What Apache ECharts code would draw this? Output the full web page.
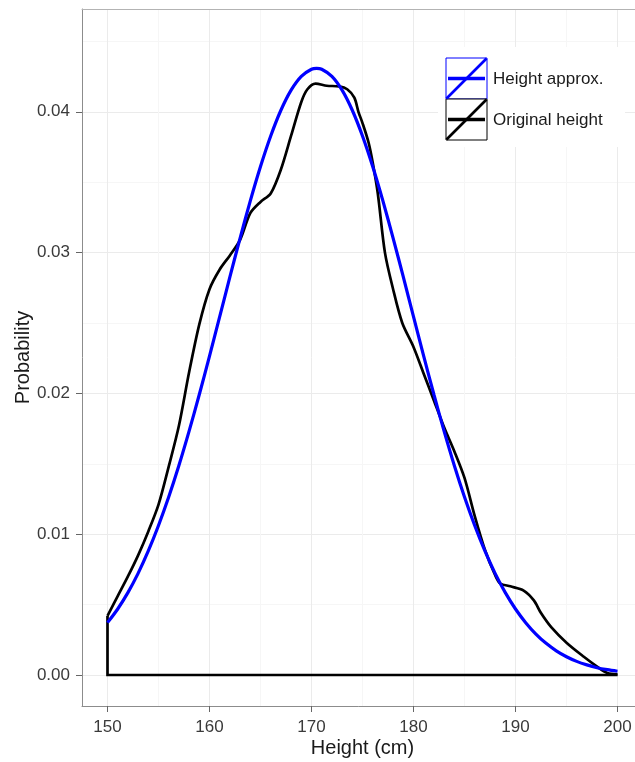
<!DOCTYPE html>
<html>
<head>
<meta charset="utf-8">
<script src="https://cdn.jsdelivr.net/npm/echarts@6/dist/echarts.min.js"></script>
<style>
  html, body { margin: 0; padding: 0; background: #ffffff; }
  #chart { width: 635px; height: 762px; }
</style>
</head>
<body>
<div id="chart"></div>
<script>
// Series names, as shown in the legend
const seriesNames = ['Height approx.', 'Original height'];

// Fitted normal approximation of the height distribution
const approxHeights = [150, 151, 152, 153, 154, 155, 156, 157, 158, 159, 160, 161, 162, 163, 164, 165, 166, 167, 168, 169, 170,
  170.5, 171, 172, 173, 174, 175, 176, 177, 178, 179, 180, 181, 182, 183, 184, 185, 186, 187, 188, 189, 190,
  191, 192, 193, 194, 195, 196, 197, 198, 199, 200];
const approxDensity = [0.00372, 0.00469, 0.00585, 0.00722, 0.00881, 0.01062, 0.01264, 0.01488, 0.01732, 0.01992, 0.02265,
  0.02545, 0.02827, 0.03103, 0.03367, 0.03611, 0.03828, 0.04011, 0.04154, 0.04252, 0.04302,
  0.04308, 0.04302, 0.04252, 0.04154, 0.04011, 0.03828, 0.03611, 0.03367, 0.03103, 0.02827, 0.02545,
  0.02265, 0.01992, 0.01732, 0.01488, 0.01264, 0.01062, 0.00881, 0.00722, 0.00585, 0.00469,
  0.00372, 0.00291, 0.00225, 0.00172, 0.00130, 0.00097, 0.00072, 0.00052, 0.00038, 0.00027];

// Kernel density of the original heights
const origHeights = [150, 151, 152, 153, 154, 155, 156, 157, 158, 159, 160, 161, 162, 163, 164, 165, 166, 167, 168, 169,
  169.6, 170.4, 171.5, 172.7, 173.5, 174.2, 174.6, 175, 175.6, 176, 176.5, 177.2, 178, 178.9,
  180, 181, 182, 183, 184, 185, 186, 187, 188,
  188.5, 189.5, 190.8, 191.8, 192.5, 193.5, 195, 196.7, 198, 199, 200];
const origDensity = [0.0042, 0.0056, 0.0070, 0.0085, 0.0102, 0.0121, 0.0148, 0.0177, 0.0215, 0.0249,
  0.0274, 0.0288, 0.0298, 0.0309, 0.0328, 0.0336, 0.0342, 0.0359, 0.0383, 0.0407,
  0.0416, 0.0420, 0.04185, 0.0418, 0.0416, 0.0410, 0.0400, 0.0392, 0.0378, 0.0364, 0.0342, 0.0300, 0.0274, 0.0250,
  0.0233, 0.0214, 0.0195, 0.0176, 0.0159, 0.0140, 0.0113, 0.0089, 0.0071,
  0.0065, 0.0063, 0.0060, 0.0053, 0.0044, 0.0034, 0.0023, 0.0013, 0.0006, 0.00015, 0.00005];

// Axis breaks
const xMajorTicks = [150, 160, 170, 180, 190, 200];
const xMinorTicks = [155, 165, 175, 185, 195];
const yMajorTicks = [0, 0.01, 0.02, 0.03, 0.04];
const yMinorTicks = [0.005, 0.015, 0.025, 0.035, 0.045];

const X_RANGE = [147.5, 202.5];
const Y_RANGE = [-0.0022, 0.0473];

const zip = (xs, ys) => xs.map((x, i) => [x, ys[i]]);

const BLUE = '#0000ff';
const BLACK = '#000000';
const FRAME = '#8c8c8c';
const FONT = 'Liberation Sans, Arial, Helvetica, sans-serif';

const approxData = zip(approxHeights, approxDensity);
const origData = zip(origHeights, origDensity);
// density outline closes down to the baseline and back to the start
const lastX = origHeights[origHeights.length - 1];
const outlineData = [[lastX, 0], [origHeights[0], 0], [origHeights[0], origDensity[0]]];

const chart = echarts.init(document.getElementById('chart'), null, { renderer: 'canvas' });

// one legend key: outlined square with a slanted and a level stroke, then its label
function legendKey(dy, color, label) {
  return [
    { type: 'rect', z: 101, shape: { x: 0, y: dy, width: 41, height: 41 },
      style: { fill: '#ffffff', stroke: color, lineWidth: 1 } },
    { type: 'line', z: 102, shape: { x1: 0.5, y1: dy + 40.5, x2: 40.5, y2: dy + 0.5 },
      style: { stroke: color, lineWidth: 2.6 } },
    { type: 'line', z: 102, shape: { x1: 2, y1: dy + 20.5, x2: 39, y2: dy + 20.5 },
      style: { stroke: color, lineWidth: 3.3 } },
    { type: 'text', z: 102, x: 47, y: dy + 21,
      style: { text: label, fill: '#1a1a1a', font: '17px ' + FONT, verticalAlign: 'middle', align: 'left' } }
  ];
}

chart.setOption({
  animation: false,
  backgroundColor: '#ffffff',
  grid: {
    left: 82, top: 9, width: 561, height: 697,
    outerBoundsMode: 'none',
    containLabel: false,
    show: false
  },
  xAxis: [
    {
      type: 'value', min: X_RANGE[0], max: X_RANGE[1], position: 'bottom',
      name: 'Height (cm)', nameLocation: 'middle', nameGap: 32, nameMoveOverlap: false,
      nameTextStyle: { fontFamily: FONT, fontSize: 20, color: '#1a1a1a' },
      axisLine: { show: true, onZero: false, lineStyle: { color: FRAME, width: 1 } },
      axisTick: { show: true, customValues: xMajorTicks, length: 6, lineStyle: { color: '#666666' } },
      axisLabel: { customValues: xMajorTicks, margin: 13, fontFamily: FONT, fontSize: 17, color: '#3a3a3a' },
      splitLine: { show: true, lineStyle: { color: '#ebebeb', width: 1 } }
    },
    {
      // minor breaks; its line forms the top edge of the panel frame
      type: 'value', min: X_RANGE[0], max: X_RANGE[1], position: 'top',
      axisLine: { show: true, onZero: false, lineStyle: { color: '#b3b3b3', width: 1 } },
      axisTick: { show: false, customValues: xMinorTicks },
      axisLabel: { show: false },
      splitLine: { show: true, lineStyle: { color: '#f6f6f6', width: 1 } }
    }
  ],
  yAxis: [
    {
      type: 'value', min: Y_RANGE[0], max: Y_RANGE[1], position: 'left',
      name: 'Probability', nameLocation: 'middle', nameGap: 49, nameMoveOverlap: false,
      nameTextStyle: { fontFamily: FONT, fontSize: 20, color: '#1a1a1a' },
      axisLine: { show: true, onZero: false, lineStyle: { color: FRAME, width: 1 } },
      axisTick: { show: true, customValues: yMajorTicks, length: 6, lineStyle: { color: '#666666' } },
      axisLabel: { customValues: yMajorTicks, margin: 12, fontFamily: FONT, fontSize: 17, color: '#3a3a3a',
        formatter: v => Number(v).toFixed(2) },
      splitLine: { show: true, lineStyle: { color: '#ebebeb', width: 1 } }
    },
    {
      type: 'value', min: Y_RANGE[0], max: Y_RANGE[1], position: 'left',
      axisLine: { show: false },
      axisTick: { show: false, customValues: yMinorTicks },
      axisLabel: { show: false },
      splitLine: { show: true, lineStyle: { color: '#f6f6f6', width: 1 } }
    }
  ],
  series: [
    {
      name: seriesNames[1], type: 'line', data: origData, xAxisIndex: 0, yAxisIndex: 0,
      smooth: 0.3, showSymbol: false, z: 3,
      lineStyle: { color: BLACK, width: 2.7 }
    },
    {
      name: seriesNames[1] + ' outline', type: 'line', data: outlineData, xAxisIndex: 0, yAxisIndex: 0,
      smooth: false, showSymbol: false, z: 3,
      lineStyle: { color: BLACK, width: 2.7, join: 'miter' }
    },
    {
      name: seriesNames[0], type: 'line', data: approxData, xAxisIndex: 0, yAxisIndex: 0,
      smooth: 0.3, showSymbol: false, z: 4,
      lineStyle: { color: BLUE, width: 3.2 }
    }
  ],
  graphic: [
    {
      type: 'group', x: 446, y: 58,
      children: [
        { type: 'rect', z: 100, shape: { x: -8, y: -11, width: 187, height: 100 },
          style: { fill: '#ffffff', stroke: null } }
      ].concat(legendKey(0, BLUE, seriesNames[0]), legendKey(41, BLACK, seriesNames[1]))
    }
  ]
});
</script>
</body>
</html>
